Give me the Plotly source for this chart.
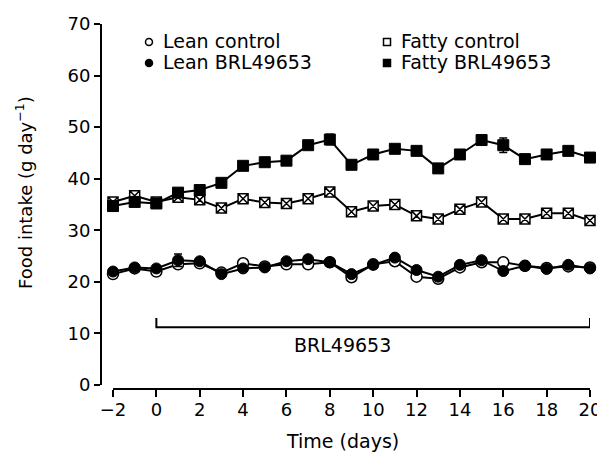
import plotly.graph_objects as go

# ---------------- data ----------------
days = list(range(-2, 21))

lean_control = [21.5, 22.6, 22.0, 23.4, 23.6, 21.8, 23.6, 23.0, 23.4, 23.4, 23.8, 20.9, 23.4,
                24.0, 21.0, 20.6, 22.8, 23.8, 23.8, 23.1, 22.7, 23.0, 22.8]
lean_brl = [22.0, 22.8, 22.6, 24.2, 24.0, 21.5, 22.6, 22.8, 24.0, 24.4, 23.8, 21.5, 23.3,
            24.7, 22.3, 21.0, 23.3, 24.2, 22.1, 23.1, 22.5, 23.3, 22.6]
fatty_control = [35.5, 36.7, 35.5, 36.4, 35.9, 34.3, 36.1, 35.4, 35.2, 36.1, 37.4, 33.6, 34.7,
                 35.0, 32.8, 32.2, 34.1, 35.5, 32.2, 32.2, 33.3, 33.3, 31.9]
fatty_brl = [34.7, 35.5, 35.2, 37.3, 37.8, 39.2, 42.5, 43.2, 43.5, 46.5, 47.6, 42.7, 44.7,
             45.8, 45.4, 42.0, 44.7, 47.5, 46.5, 43.8, 44.7, 45.4, 44.1]

lean_brl_err = [0.5, 0.5, 0.5, 1.2, 0.5, 0.5, 0.5, 0.5, 0.5, 0.5, 0.5, 0.5, 0.5,
                0.5, 0.5, 0.5, 0.5, 0.5, 0.5, 0.5, 0.5, 0.5, 0.5]
fatty_brl_err = [0.6, 0.6, 0.6, 0.6, 0.6, 0.6, 0.6, 0.6, 0.6, 0.6, 1.0, 0.6, 0.6,
                 0.6, 0.6, 0.6, 0.6, 0.6, 1.4, 0.6, 0.6, 0.6, 0.9]

series_names = ["Lean control", "Lean BRL49653", "Fatty control", "Fatty BRL49653"]
x_ticks = list(range(-2, 21, 2))
y_ticks = list(range(0, 71, 10))
treatment_start, treatment_end = 0, 20
treatment_label = "BRL49653"

# ---------------- layout geometry ----------------
# the page body adds an 8px margin, so the figure is drawn 8px smaller and
# all screen positions below are given in window pixels and shifted by it
BODY = 8
W, H = 605 - BODY, 459 - BODY
SCR_L, SCR_R, SCR_T, SCR_B = 101, 590, 24, 389   # plot area in window pixels
ML, MT = SCR_L - BODY, SCR_T - BODY
MR, MB = W - (SCR_R - BODY), H - (SCR_B - BODY)
PW, PH = W - ML - MR, H - MT - MB

X_MIN = x_ticks[0] - 12 / 21.68   # y axis sits a little left of the first x tick
Y_MIN = y_ticks[0] - 4 / 5.157     # x axis sits a little below zero


def px(x):
    return (x - SCR_L) / PW


def py(y):
    return (SCR_B - y) / PH


FONT = "DejaVu Sans"
BLACK = "#000000"

fig = go.Figure()

common = dict(mode="lines+markers", cliponaxis=False, showlegend=False,
              line=dict(color=BLACK, width=2))

fig.add_trace(go.Scatter(x=days, y=lean_control, name=series_names[0],
                         marker=dict(symbol="circle", size=11, color="white",
                                     line=dict(color=BLACK, width=1.5)), **common))
fig.add_trace(go.Scatter(x=days, y=lean_brl, name=series_names[1],
                         error_y=dict(type="data", array=lean_brl_err, color=BLACK,
                                      thickness=1.5, width=4),
                         marker=dict(symbol="circle", size=11, color=BLACK,
                                     line=dict(color=BLACK, width=1)), **common))
fig.add_trace(go.Scatter(x=days, y=fatty_control, name=series_names[2],
                         marker=dict(symbol="square-x", size=10, color="white",
                                     line=dict(color=BLACK, width=1.5)), **common))
fig.add_trace(go.Scatter(x=days, y=fatty_brl, name=series_names[3],
                         error_y=dict(type="data", array=fatty_brl_err, color=BLACK,
                                      thickness=1.5, width=4),
                         marker=dict(symbol="square", size=11, color=BLACK,
                                     line=dict(color=BLACK, width=1)), **common))

# detached axis lines
fig.add_shape(type="line", xref="x", yref="paper", x0=x_ticks[0], x1=x_ticks[-1], y0=0, y1=0,
              line=dict(color=BLACK, width=2))
fig.add_shape(type="line", xref="paper", yref="y", x0=0, x1=0, y0=y_ticks[0], y1=y_ticks[-1],
              line=dict(color=BLACK, width=2))

# treatment bracket
fig.add_shape(type="path", xref="x", yref="y",
              path=f"M {treatment_start},13 L {treatment_start},11.2 L {treatment_end},11.2 L {treatment_end},13",
              line=dict(color=BLACK, width=2))

annotations = [
    dict(x=8.6, y=7.8, xref="x", yref="y", text=treatment_label, showarrow=False,
         font=dict(family=FONT, size=19, color=BLACK), xanchor="center", yanchor="middle"),
    dict(x=px(342), y=py(441), xref="paper", yref="paper", text="Time (days)",
         showarrow=False, font=dict(family=FONT, size=19, color=BLACK),
         xanchor="center", yanchor="middle"),
    dict(x=px(24), y=py(193), xref="paper", yref="paper",
         text="Food intake (g day<sup>−1</sup>)", textangle=-90,
         showarrow=False, font=dict(family=FONT, size=18, color=BLACK),
         xanchor="center", yanchor="middle"),
]

# legend (manual, two columns)
legend_items = [
    (series_names[0], 149, 42, "circle", "white"),
    (series_names[1], 149, 63, "circle", BLACK),
    (series_names[2], 387, 42, "rect", "white"),
    (series_names[3], 387, 63, "rect", BLACK),
]
for name, mx, my, shp, fill in legend_items:
    fig.add_shape(type=shp, xref="paper", yref="paper", xsizemode="pixel", ysizemode="pixel",
                  xanchor=px(mx), yanchor=py(my), x0=-3.5, x1=3.5, y0=-3.5, y1=3.5,
                  fillcolor=fill, line=dict(color=BLACK, width=1.5))
    annotations.append(dict(x=px(mx + 12), y=py(my - 1), xref="paper", yref="paper", text=name,
                            showarrow=False, font=dict(family=FONT, size=19, color=BLACK),
                            xanchor="left", yanchor="middle"))

fig.update_layout(
    width=W, height=H,
    margin=dict(l=ML, r=MR, t=MT, b=MB, pad=0, autoexpand=False),
    paper_bgcolor="white", plot_bgcolor="white",
    font=dict(family=FONT, size=18, color=BLACK),
    annotations=annotations,
    xaxis=dict(range=[X_MIN, x_ticks[-1]], automargin=False,
               tickvals=x_ticks, ticks="outside", ticklen=7, tickwidth=2, tickcolor=BLACK,
               ticklabelstandoff=-3,
               showline=False, showgrid=False, zeroline=False,
               tickfont=dict(family=FONT, size=18, color=BLACK)),
    yaxis=dict(range=[Y_MIN, y_ticks[-1]], automargin=False,
               tickvals=y_ticks, ticks="outside", ticklen=6, tickwidth=2, tickcolor=BLACK,
               showline=False, showgrid=False, zeroline=False,
               tickfont=dict(family=FONT, size=18, color=BLACK)),
)

fig.write_html("out.html")
